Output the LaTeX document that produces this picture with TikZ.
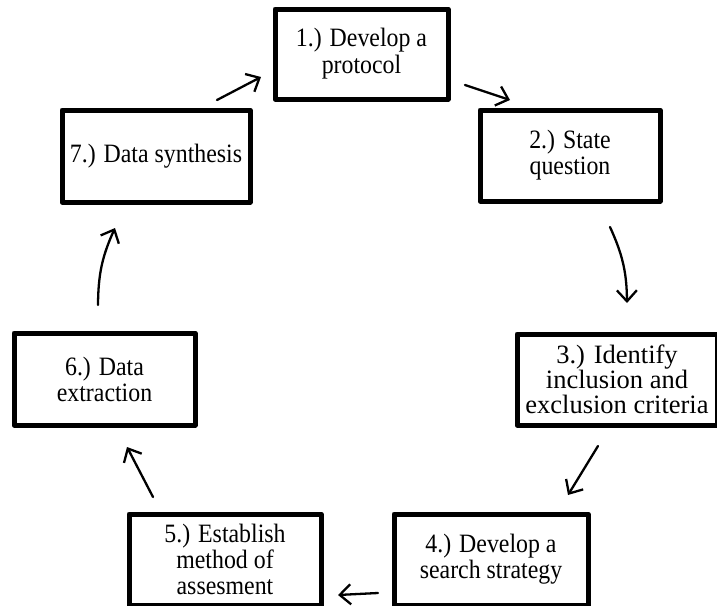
\documentclass[tikz,border=0pt]{standalone}
\usepackage{fontspec}
\setmainfont{Liberation Serif}
\newfontfamily\narrowserif[FakeStretch=0.9]{Liberation Serif}
\usetikzlibrary{arrows.meta,calc}
\begin{document}
\begin{tikzpicture}[x=1pt,y=-1pt,
  box/.style={draw, line width=5pt, line join=round, align=center, inner sep=0pt,
    font=\narrowserif\fontsize{26.5}{26}\selectfont},
  widebox/.style={box, font=\rmfamily\fontsize{26.5}{25}\selectfont},
  arr/.style={line width=2.3pt, line cap=round,
    -{Straight Barb[length=11pt,width=20pt,line width=2.3pt]}}]
\useasboundingbox (0,0) rectangle (717,605);
\node[box, minimum width=173pt, minimum height=90pt] (n1) at (361.5,54) {\raisebox{-4pt}{\shortstack{1.) Develop a\\protocol}}};
\node[box, minimum width=180pt, minimum height=91pt] (n2) at (570,155.5) {\raisebox{-4pt}{\shortstack{2.) State\\question}}};
\node[widebox, minimum width=200pt, minimum height=91pt] (n3) at (617,379.5) {3.) Identify\\inclusion and\\exclusion criteria};
\node[box, minimum width=194pt, minimum height=91pt] (n4) at (491,559.5) {4.) Develop a\\search strategy};
\node[box, minimum width=192pt, minimum height=91pt] (n5) at (225,559.5) {5.) Establish\\method of\\assesment};
\node[box, minimum width=181pt, minimum height=92pt] (n6) at (104.5,379) {6.) Data\\extraction};
\node[box, minimum width=188pt, minimum height=92pt] (n7) at (156,156) {7.) Data synthesis};

\draw[arr] ($(n7)+(61,-56)$) -- ($(n1)+(-100.5,23)$);
\draw[arr] ($(n1)+(103.5,31)$) -- ($(n2)+(-60,-55.5)$);
\draw[arr] ($(n2)+(40,71.5)$) to[bend left=12] ($(n3)+(10,-76.5)$);
\draw[arr] ($(n3)+(-19,66.5)$) -- ($(n4)+(77,-64.5)$);
\draw[arr] ($(n4)+(-113,33.5)$) -- ($(n5)+(113,35.5)$);
\draw[arr] ($(n5)+(-72,-62.5)$) -- ($(n6)+(22.5,68)$);
\draw[arr] ($(n6)+(-6.5,-74)$) to[bend left=12] ($(n7)+(-41,72)$);
\end{tikzpicture}
\end{document}
